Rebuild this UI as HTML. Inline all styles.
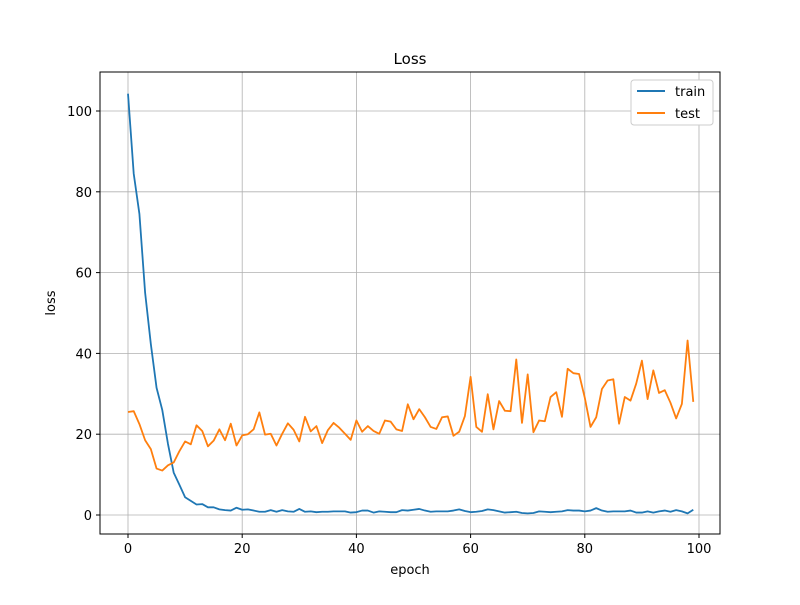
<!DOCTYPE html>
<html><head><meta charset="utf-8"><style>
body{margin:0;background:#fff;font-family:"Liberation Sans","DejaVu Sans",sans-serif}
svg text{font-family:"DejaVu Sans","Liberation Sans",sans-serif;font-size:13px;fill:#000}
</style></head><body>
<svg id="chart" width="800" height="600" xmlns="http://www.w3.org/2000/svg">
<rect width="800" height="600" fill="#fff"/>
<g id="grid"></g>
<g id="series"></g>
<rect x="100" y="72" width="620" height="462" fill="none" stroke="#000" stroke-width="1"/>
<g id="ticks"></g>
<text x="410" y="64" text-anchor="middle" style="font-size:15px">Loss</text>
<text x="410" y="574" text-anchor="middle">epoch</text>
<text transform="translate(55,303) rotate(-90)" text-anchor="middle">loss</text>
<g>
<rect x="631" y="80" width="82" height="45" rx="3" fill="#fff" stroke="#ccc"/>
<g><line x1="637" y1="91" x2="665" y2="91" stroke="#1f77b4" stroke-width="2"/><text x="675" y="96">train</text></g>
<g><line x1="637" y1="113" x2="665" y2="113" stroke="#ff7f0e" stroke-width="2"/><text x="675" y="118">test</text></g>
</g>
</svg>
<script>
const trainLoss=[104.3,84.5,74.5,55,42.3,31.5,26,17.6,10.5,7.5,4.4,3.5,2.6,2.7,1.9,1.9,1.4,1.2,1.1,1.8,1.3,1.4,1.1,0.8,0.8,1.2,0.8,1.2,0.9,0.8,1.5,0.8,0.9,0.7,0.8,0.8,0.9,0.9,0.9,0.6,0.7,1.1,1.1,0.6,0.9,0.8,0.7,0.7,1.2,1.1,1.3,1.5,1.1,0.8,0.9,0.9,0.9,1.1,1.4,1,0.7,0.8,1,1.4,1.2,0.9,0.6,0.7,0.8,0.5,0.4,0.5,0.9,0.8,0.7,0.8,0.9,1.2,1.1,1.1,0.9,1.1,1.7,1.1,0.8,0.9,0.9,0.9,1.1,0.6,0.6,0.9,0.6,0.9,1.1,0.8,1.2,0.9,0.4,1.3];
const testLoss=[25.5,25.7,22.5,18.5,16.3,11.5,11,12.3,13,15.8,18.2,17.5,22.2,20.8,17,18.4,21.2,18.5,22.6,17.2,19.7,20,21.2,25.4,19.9,20.1,17.2,20.1,22.7,21.1,18.2,24.3,20.7,22,17.8,21,22.8,21.6,20.1,18.6,23.4,20.6,22,20.8,20.1,23.4,23.1,21.2,20.8,27.4,23.7,26.2,24.2,21.8,21.3,24.2,24.4,19.6,20.6,24.5,34.2,21.8,20.6,29.9,21.2,28.2,25.8,25.7,38.5,22.8,34.8,20.5,23.4,23.2,29.2,30.4,24.3,36.2,35.1,34.9,29,21.8,24.2,31.2,33.3,33.6,22.6,29.2,28.3,32.5,38.2,28.7,35.8,30.2,30.9,27.8,23.9,27.5,43.2,28];
const xTicks=[0,20,40,60,80,100];
const yTicks=[0,20,40,60,80,100];
const NS="http://www.w3.org/2000/svg";
function xs(v){return 128+v*(699-128)/100;}
function ys(v){return 515-v*(515-111)/100;}
function mk(t,a,p){const e=document.createElementNS(NS,t);for(const k in a)e.setAttribute(k,a[k]);p.appendChild(e);return e;}
const grid=document.getElementById('grid'),ticks=document.getElementById('ticks'),series=document.getElementById('series');
xTicks.forEach(v=>{const x=xs(v);
const g=mk('line',{x1:x,x2:x,y1:72,y2:534,stroke:'#b0b0b0','stroke-width':0.8},grid);


mk('line',{x1:x,x2:x,y1:534,y2:538,stroke:'#000'},ticks);
const t=mk('text',{x:x,y:553,'text-anchor':'middle'},ticks);t.textContent=v;

});
yTicks.forEach(v=>{const y=ys(v);
const g=mk('line',{x1:100,x2:720,y1:y,y2:y,stroke:'#b0b0b0','stroke-width':0.8},grid);


mk('line',{x1:96,x2:100,y1:y,y2:y,stroke:'#000'},ticks);
const t=mk('text',{x:92,y:y+5,'text-anchor':'end'},ticks);t.textContent=v;

});
function line(d,c,name){const p=mk('polyline',{points:d.map((v,i)=>xs(i)+','+ys(v)).join(' '),fill:'none',stroke:c,'stroke-width':1.8,'stroke-linejoin':'round'},series);

}
line(trainLoss,'#1f77b4','train-line');
line(testLoss,'#ff7f0e','test-line');
</script>
</body></html>
